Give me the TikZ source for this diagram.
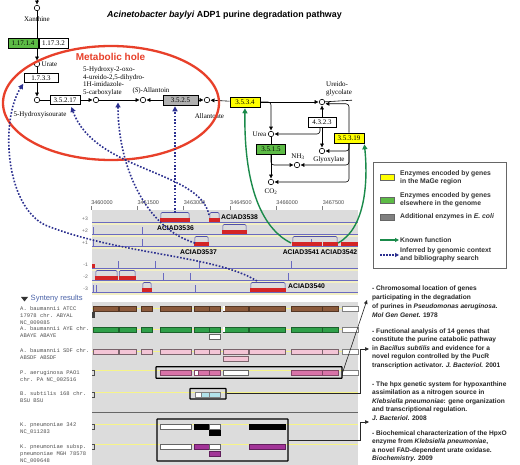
\documentclass[tikz,border=0pt]{standalone}
\usepackage{fontspec}
\setmainfont{Liberation Serif}
\setsansfont{Liberation Sans}
\setmonofont{Liberation Mono}
\usetikzlibrary{arrows.meta}
\pgfdeclarelayer{back}
\pgfdeclarelayer{bg}
\pgfdeclarelayer{fg}
\pgfsetlayers{back,bg,main,fg}
\definecolor{ecgreen}{HTML}{5DBB46}
\definecolor{ecyellow}{HTML}{FFFF00}
\definecolor{ecgray}{HTML}{B0B0B0}
\definecolor{holered}{HTML}{E8402A}
\definecolor{knowngreen}{HTML}{1A8A4A}
\definecolor{infblue}{HTML}{2B2F8F}
\definecolor{panelgray}{HTML}{DCDCDC}
\definecolor{paleyel}{HTML}{F2EFC4}
\definecolor{trackblue}{HTML}{6A6AC0}
\definecolor{hatblue}{HTML}{5050A8}
\definecolor{genered}{HTML}{D42525}
\definecolor{brownbar}{HTML}{8B5A3C}
\definecolor{greenbar}{HTML}{2FA04A}
\definecolor{pinkbar}{HTML}{F3C5D6}
\definecolor{magbar}{HTML}{D873A8}
\definecolor{cyanbar}{HTML}{B2E2EA}
\definecolor{purpbar}{HTML}{A23497}
\definecolor{synlabel}{HTML}{505050}
\definecolor{syntitle}{HTML}{4A62A8}
\newcommand\genebar[3]{\fill[genered] (#1,#3-3.8) rectangle (#2,#3);}
\newcommand\genehat[3]{\draw[hatblue,line width=0.55pt,rounded corners=1.2pt] (#1+0.8,#3-3.8) -- (#1+0.8,#3-9.5) -- (#2-0.8,#3-9.5) -- (#2-0.8,#3-3.8);}
\newcommand\sbar[5]{\filldraw[fill=#4,draw=#5,line width=0.4pt] (#1,#3) rectangle (#2,#3+5);}
\begin{document}
\begin{tikzpicture}[x=1pt,y=-1pt,
  met/.style={circle,draw,line width=0.6pt,fill=white,inner sep=0pt,minimum size=5.5pt},
  ec/.style={draw,line width=0.55pt,inner sep=0pt,minimum height=9.5pt,font=\fontsize{7}{8}\selectfont},
  pw/.style={line width=0.6pt,-{Triangle[length=3.8pt,width=3.8pt]},shorten >=0.6pt},
  pl/.style={line width=0.6pt},
  lab/.style={font=\fontsize{7}{7.5}\selectfont,inner sep=0pt},
  inferred/.style={infblue,line width=1.6pt,dash pattern=on 1.6pt off 1.7pt,-{Triangle[length=5pt,width=5pt]},shorten >=1pt},
  known/.style={knowngreen,line width=1.4pt,-{Triangle[length=5pt,width=5pt]},shorten >=1pt},
  genelab/.style={font=\sffamily\bfseries\fontsize{6.8}{8}\selectfont,inner sep=0pt},
  rul/.style={font=\sffamily\fontsize{5.5}{6}\selectfont,text=black!70,inner sep=0pt},
  trk/.style={font=\sffamily\fontsize{5}{6}\selectfont,text=black!60,anchor=east,inner sep=0pt},
  synlab/.style={font=\ttfamily\fontsize{5.5}{7}\selectfont,text=synlabel,align=left,anchor=north west,inner sep=0pt},
  reftext/.style={font=\sffamily\bfseries\fontsize{6.6}{8.5}\selectfont,align=left,anchor=north west,inner sep=0pt,text=black!85},
  legtext/.style={font=\sffamily\bfseries\fontsize{6.8}{8.2}\selectfont,align=left,anchor=west,inner sep=0pt,text=black!80},
  refarr/.style={black!85,line width=0.6pt,-{Triangle[length=4pt,width=3.5pt]}},
  hbox/.style={draw=black,line width=1.2pt,inner sep=0pt,rounded corners=0.5pt}
]
\useasboundingbox (0,0) rectangle (520,465);
\begin{pgfonlayer}{back}
\fill[white] (0,0) rectangle (520,465);
\end{pgfonlayer}

% ---------------- title ----------------
\node[font=\sffamily\bfseries\fontsize{8.9}{10}\selectfont,inner sep=0pt] (title) at (224.5,15) {\textit{Acinetobacter baylyi} ADP1 purine degradation pathway};

% ---------------- pathway nodes ----------------
\coordinate (topc) at (37,0);
\node[met] (xan) at (37,8) {};
\node[lab] (xanl) at (37,19) {Xanthine};
\node[ec,fill=ecgreen,minimum width=30pt] (ec1) at (23,43.5) {1.17.1.4};
\node[ec,fill=white,minimum width=29pt] (ec2) at (53.5,43.5) {1.17.3.2};
\node[met] (urate) at (37,64) {};
\node[lab,anchor=west] (uratel) at (41.5,64) {Urate};
\node[ec,fill=white,minimum width=34pt] (ec3) at (41,78) {1.7.3.3};
\node[met] (hiu) at (37,100) {};
\node[lab] (hiul) at (40,115) {5-Hydroxyisourate};
\node[ec,fill=white,minimum width=30pt] (ec4) at (65,100) {3.5.2.17};
\node[met] (ohcu) at (96,100) {};
\node[lab,align=left,anchor=north west] (ohcul) at (83,66.5) {5-Hydroxy-2-oxo-\\4-ureido-2,5-dihydro-\\1H-imidazole-\\5-carboxylate};
\coordinate (ohculine) at (118,101.5);
\node[met] (sall) at (143,100) {};
\node[lab] (salll) at (151,91) {(\textit{S})-Allantoin};
\node[ec,fill=ecgray,minimum width=35pt,minimum height=10pt] (ec5) at (180.5,100) {3.5.2.5};
\node[met] (allt) at (207,100) {};
\node[lab] (alltl) at (209.5,116) {Allantoate};
\node[ec,fill=ecyellow,minimum width=30pt,minimum height=10pt] (ec6) at (245,102) {3.5.3.4};
\node[met] (ureg) at (322,102) {};
\coordinate (uregR) at (352,100.2);
\node[lab,align=left,anchor=west] (uregl) at (326,89) {Ureido-\\glycolate};
\node[ec,fill=white,minimum width=28pt,minimum height=10pt] (ec7) at (322,122) {4.3.2.3};
\node[met] (urea) at (271,134) {};
\node[lab,anchor=east] (ureal) at (266.5,134) {Urea};
\node[ec,fill=ecyellow,minimum width=30pt,minimum height=10pt] (ec8) at (349,138) {3.5.3.19};
\node[met] (glyox) at (322,151) {};
\node[lab] (glyoxl) at (329,160) {Glyoxylate};
\node[ec,fill=ecgreen,minimum width=29pt,minimum height=10pt] (ec9) at (271,149) {3.5.1.5};
\node[met] (nh3) at (297,165) {};
\node[lab] (nh3l) at (298,157) {NH\textsubscript{3}};
\node[met] (co2) at (271,182) {};
\node[lab] (co2l) at (271,192) {CO\textsubscript{2}};

\begin{pgfonlayer}{bg}
\draw[pw] (topc) -- (xan);
\draw[pw] (xan) -- (urate);
\draw[pw] (urate) -- (hiu);
\draw[pl] (hiu) -- (ec4);
\draw[pw] (ec4) -- (ohcu);
\draw[pw] (ohcu) -- (sall);
\draw[pw] (ec5) -- (sall);
\draw[pw] (ec5) -- (allt);
\draw[pw] (ec6) -- (allt);
\draw[pw] (ec6) -- (ureg);
\draw[pl] (ureg) -- (uregR);
\draw[pw,rounded corners=3pt] (ec6.east) -| (urea);
\draw[pw] (ec7) -- (ureg);
\draw[pw] (ec7) -- (glyox);
\draw[pw,rounded corners=3pt] ([xshift=-2pt]ec7.south) |- (urea);
\draw[pw] (urea) -- (co2);
\draw[pw,rounded corners=3pt] (ec9.south) |- (nh3);
\draw[pw,rounded corners=3pt] (ec8.north) |- ([yshift=-1.8pt]ureg.east);
\draw[pw,rounded corners=3pt] (ec8.south) |- (glyox);
\draw[pw,rounded corners=3pt] (ec8.south) |- (nh3);
\draw[pw,rounded corners=3pt] (ec8.south) |- (co2);
\end{pgfonlayer}

% metabolic hole
\draw[holered,line width=2.3pt] (111,103) ellipse [x radius=108pt,y radius=57pt];
\node[font=\sffamily\bfseries\fontsize{10}{11}\selectfont,text=holered,inner sep=0pt] (holel) at (110.5,57) {Metabolic hole};

% ---------------- legend ----------------
\node[draw=black!60,line width=0.8pt,fill=white,minimum width=133pt,minimum height=106pt,inner sep=0pt] (legbox) at (439.5,215) {};
\filldraw[fill=ecyellow,draw=black!60,line width=0.5pt] (380,174) rectangle (394,180);
\node[legtext] (lg1) at (400,178) {Enzymes encoded by genes\\in the MaGe region};
\filldraw[fill=ecgreen,draw=black!60,line width=0.5pt] (380,197) rectangle (394,203);
\node[legtext] (lg2) at (400,199.5) {Enzymes encoded by genes\\elsewhere in the genome};
\filldraw[fill=black!50,draw=black!60,line width=0.5pt] (380,214) rectangle (394,220);
\node[legtext] (lg3) at (400,217) {Additional enzymes in \textit{E. coli}};
\coordinate (lka) at (380,240);
\coordinate (lkb) at (399,240);
\draw[knowngreen,line width=1.2pt,-{Triangle[length=4pt,width=4pt]}] (lka) -- (lkb);
\node[legtext] (lg4) at (400,240) {Known function};
\coordinate (lia) at (380,255);
\coordinate (lib) at (399,255);
\draw[infblue,line width=1.3pt,dash pattern=on 1.5pt off 1.5pt,-{Triangle[length=4pt,width=4pt]}] (lia) -- (lib);
\node[legtext] (lg5) at (400,255) {Inferred by genomic context\\and bibliography search};

% ---------------- genome browser ----------------
\foreach \i/\l in {0/3460000,1/3461500,2/3463000,3/3464500,4/3466000,5/3467500}{
  \node[rul] (ru\i) at (102+46.3*\i,203) {\l};
  \draw[black!50,line width=0.4pt] (91+46.3*\i,206.5) -- (91+46.3*\i,210);
}
\fill[panelgray] (92,210) rectangle (358,294);
\foreach \b/\lbl in {222/+3,234/+2,246/+1,268/-1,280/-2,292/-3}{
  \fill[paleyel] (92,\b+0.4) rectangle (358,\b+2.8);
  \draw[trackblue,line width=0.5pt] (92,\b) -- (358,\b);
  \node[trk] (tl\b) at (88,\b-3) {\lbl};
}
% spikes
\foreach \x/\b in {93/234,142/234,93/246,142/246,311/246,118/268,155/268,199/268,291/268,163/280,190/280,288/280,93/292,96/292,195/292}{
  \draw[trackblue,line width=0.6pt] (\x,\b) -- (\x,\b-7);
}
% genes
\genehat{160}{190}{222}\genebar{160}{190}{222}
\genehat{209}{220}{222}\genebar{209}{220}{222}
\genehat{222}{247}{234}\genebar{222}{247}{234}
\genehat{194}{209}{246}\genebar{194}{209}{246}
\genehat{292}{338}{246}\genebar{292}{321.7}{246}\genebar{322.5}{338}{246}
\genebar{341}{358}{246}
\fill[genered] (92,264.5) rectangle (95,268.5);
\genehat{95}{118}{280}\genebar{95}{118}{280}
\genehat{118.5}{136}{280}\genebar{119}{136}{280}
\genehat{142}{152}{292}\genebar{142}{152}{292}
\genehat{250}{286}{292}\genebar{250}{286}{292}
\node[genelab,anchor=west] (g3538) at (221,217.5) {ACIAD3538};
\node[genelab] (g3536) at (175.5,228) {ACIAD3536};
\node[genelab] (g3537) at (198.5,252.5) {ACIAD3537};
\node[genelab] (g3541) at (320,252.5) {ACIAD3541\,ACIAD3542};
\node[genelab,anchor=west] (g3540) at (288,286) {ACIAD3540};
\coordinate (h3536) at (175,213);
\coordinate (h3538) at (209,215);
\coordinate (h3537) at (195,243);
\coordinate (h3540) at (257,281);
\coordinate (h3541) at (291,243);
\coordinate (h3542) at (338,243);

% ---------------- synteny ----------------
\fill[black!80] (21,297) -- (28,297) -- (24.5,301.5) -- cycle;
\node[font=\sffamily\fontsize{7.6}{9}\selectfont,text=syntitle,anchor=west,inner sep=0pt] (synt) at (30.5,299) {Synteny results};
\fill[panelgray] (92,302) rectangle (358,465);
\foreach \y in {308.5,329.5,351.5,370.5,392.5,424.5,444.5}{
  \draw[paleyel!70!yellow,line width=1pt] (92,\y) -- (358,\y);
}
\draw[black!60,line width=0.8pt] (92,412) -- (358,412);
% row 1
\foreach \a/\b in {93/118,119/136,141/152,160/191,194/209,209/220,223/248,249/285,291/322,322/338}{\sbar{\a}{\b}{306}{brownbar}{brownbar!60!black}}
\fill[white] (223.4,306.4) rectangle (225.2,310.6);
\sbar{342}{358}{306}{white}{black!50}
\fill[black!75] (92,312) rectangle (94.5,318);
% row 2
\foreach \a/\b in {93/118,119/136,141/152,160/191,194/209,209/220,223/248,249/285,291/322,322/338}{\sbar{\a}{\b}{327}{greenbar}{greenbar!60!black}}
\fill[white] (223.4,327.4) rectangle (225.2,331.6);
\sbar{342}{358}{327}{white}{black!50}
\sbar{209}{220}{334.5}{white}{black!60}
% row 3
\foreach \a/\b in {93/118,119/136,141/152,160/191,194/209,209/220,223/248,249/285,291/322,322/338}{\sbar{\a}{\b}{349}{pinkbar}{pinkbar!50!black}}
\sbar{342}{358}{349}{white}{black!50}
\sbar{223}{248}{356}{pinkbar}{pinkbar!50!black}
% row 4
\sbar{160}{191}{370}{magbar}{magbar!60!black}
\sbar{194}{198}{370}{white}{magbar!60!black}
\sbar{198}{209}{370}{magbar}{magbar!60!black}
\sbar{209}{220}{370}{magbar}{magbar!60!black}
\sbar{223}{248}{370}{white}{black!60}
\sbar{291}{322}{370}{magbar}{magbar!60!black}
\sbar{322}{338}{370}{magbar}{magbar!60!black}
\sbar{342}{358}{370}{white}{black!50}
% row 5
\sbar{195}{201}{392}{white}{black!50}
\sbar{201}{209}{392}{cyanbar}{black!50}
\sbar{209}{220}{392}{cyanbar}{black!50}
% row 6
\sbar{160}{191}{424}{white}{black!60}
\sbar{194}{209}{424}{black}{black}
\sbar{209}{220}{424}{white}{black!60}
\sbar{249}{285}{424}{black}{black}
\sbar{209}{220}{430.5}{black}{black}
% row 7
\sbar{160}{191}{444}{white}{black!60}
\sbar{194}{209}{444}{purpbar}{purpbar!60!black}
\sbar{209}{220}{444}{white}{black!60}
\sbar{249}{285}{444}{purpbar}{purpbar!60!black}
\sbar{209}{220}{451}{purpbar}{purpbar!60!black}
% brackets
\foreach \y in {370,392,424,444}{
  \draw[black!70,line width=0.5pt] (92,\y) -- (94,\y) -- (94,\y+5) -- (92,\y+5);
}
% highlight boxes
\node[hbox,minimum width=186pt,minimum height=11.5pt] (boxPA) at (249,372.5) {};
\node[hbox,minimum width=36pt,minimum height=10.5pt] (boxBS) at (208,393.8) {};
\node[hbox,minimum width=131pt,minimum height=42pt] (boxKP) at (222.5,440) {};
% labels
\node[synlab] (s1) at (20,306.2) {A. baumannii ATCC\\17978 chr. ABYAL\\NC\_009085};
\node[synlab] (s2) at (20,326.2) {A. baumannii AYE chr.\\ABAYE ABAYE};
\node[synlab] (s3) at (20,348.2) {A. baumannii SDF chr.\\ABSDF ABSDF};
\node[synlab] (s4) at (20,370.2) {P. aeruginosa PAO1\\chr. PA NC\_002516};
\node[synlab] (s5) at (20,391.2) {B. subtilis 168 chr.\\BSU BSU};
\node[synlab] (s6) at (20,422.2) {K. pneumoniae 342\\NC\_011283};
\node[synlab] (s7) at (20,444.2) {K. pneumoniae subsp.\\pneumoniae MGH 78578\\NC\_009648};

% ---------------- references ----------------
\node[reftext,font=\sffamily\bfseries\fontsize{6.6}{9}\selectfont] (ref1) at (372,285.3) {- Chromosomal location of genes\\participating in the degradation\\of purines in \textit{Pseudomonas aeruginosa.}\\\textit{Mol Gen Genet.} 1978};
\node[reftext] (ref2) at (372,328.3) {- Functional analysis of 14 genes that\\constitute the purine catabolic pathway\\in \textit{Bacillus subtilis} and evidence for a\\novel regulon controlled by the PucR\\transcription activator. \textit{J. Bacteriol.} 2001};
\node[reftext] (ref3) at (372,381.3) {- The hpx genetic system for hypoxanthine\\assimilation as a nitrogen source in\\\textit{Klebsiella pneumoniae}: gene organization\\and transcriptional regulation.\\\textit{J. Bacteriol.} 2008};
\node[reftext] (ref4) at (372,430.3) {- Biochemical characterization of the HpxO\\enzyme from \textit{Klebsiella pneumoniae},\\a novel FAD-dependent urate oxidase.\\\textit{Biochemistry.} 2009};
\coordinate (r1in) at (367,300);
\coordinate (r2c) at (360,349);
\coordinate (r2in) at (369,349);
\coordinate (r3c) at (360,422);
\coordinate (r3in) at (369,422);
\draw[refarr] (boxPA.east) -- (r1in);
\draw[refarr] (boxBS.east) -| (r2c) -- (r2in);
\draw[refarr] (boxKP.east) -| (r3c) -- (r3in);

% ---------------- evidence arrows ----------------
\begin{pgfonlayer}{fg}
\draw[inferred] (h3536) -- (h3536 |- ec5.south);
\draw[inferred] (h3538) .. controls (200,170) and (95,172) .. ([xshift=6pt,yshift=-1pt]ec4.south);
\draw[inferred] (h3537) .. controls (145,228) and (118,165) .. (ohculine);
\draw[inferred] (h3540) .. controls (215,255) and (120,255) .. (45,225) .. controls (5,205) and (0,120) .. (ec3.south west);
\draw[known] (h3541) .. controls (255,225) and (244,170) .. (ec6.south);
\draw[known] (h3542) .. controls (366,228) and (368,180) .. (ec8.south east);
\end{pgfonlayer}
\end{tikzpicture}
\end{document}
